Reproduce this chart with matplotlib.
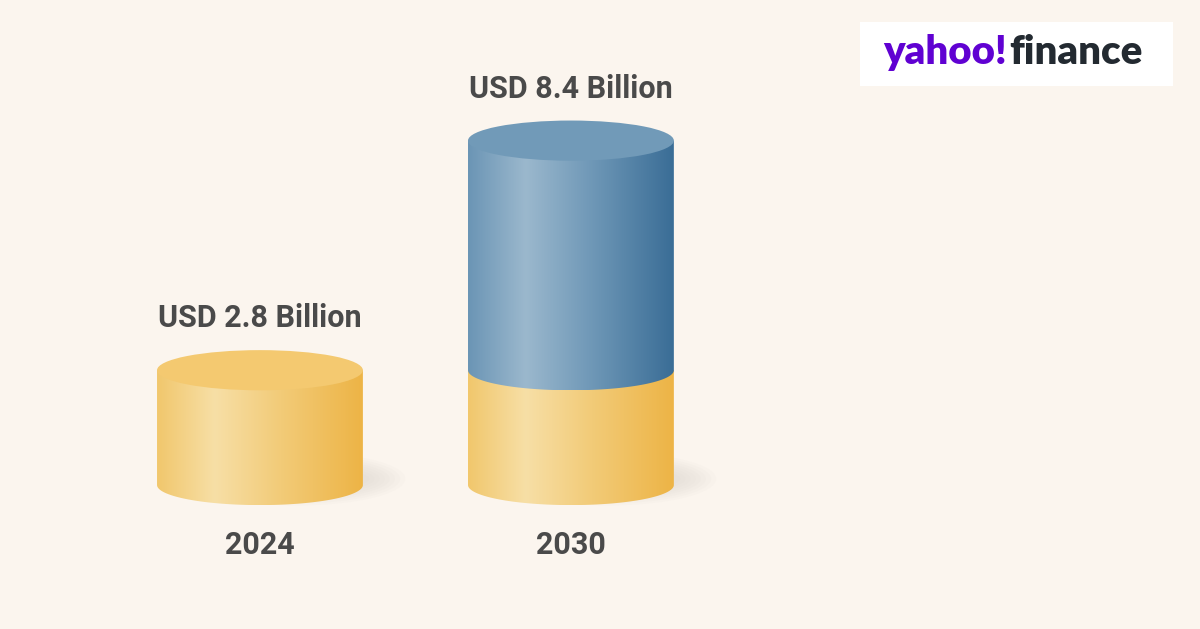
import matplotlib
matplotlib.use("Agg")
import matplotlib.pyplot as plt
import numpy as np
from matplotlib.colors import LinearSegmentedColormap
from matplotlib.patches import Ellipse, PathPatch, Rectangle
from matplotlib.path import Path

# datos del gráfico (USD mil millones)
years = ["2024", "2030"]
base_values = [2.8, 2.8]      # tramo amarillo
growth_values = [0.0, 5.6]    # tramo azul (2030 - 2024)
total_labels = ["USD 2.8 Billion", "USD 8.4 Billion"]

BG = "#FBF5EE"
TXT = "#4A4A4A"
HALF_W = 0.331      # semiancho del cilindro (unidades x)
ELL_H = 0.49        # semialto de la elipse (unidades y)

yellow_cmap = LinearSegmentedColormap.from_list(
    "amarillo", [(0, "#F1C76C"), (0.28, "#F7DFA6"), (0.6, "#F2CB78"), (1, "#EDB446")])
blue_cmap = LinearSegmentedColormap.from_list(
    "azul", [(0, "#6B95B5"), (0.28, "#9BB8CD"), (0.6, "#6F98B7"), (1, "#3A6D96")])


def side_path(xc, y0, y1):
    """Cara lateral: rectángulo con semielipse inferior en y0."""
    t = np.linspace(np.pi, 2 * np.pi, 80)
    bx = xc + HALF_W * np.cos(t)
    by = y0 + ELL_H * np.sin(t)
    verts = [(xc - HALF_W, y1)] + list(zip(bx, by)) + [(xc + HALF_W, y1), (xc - HALF_W, y1)]
    codes = [Path.MOVETO] + [Path.LINETO] * (len(verts) - 2) + [Path.CLOSEPOLY]
    return Path(verts, codes)


def draw_segment(ax, xc, y0, y1, cmap, top_color=None, zorder=2):
    grad = np.linspace(0, 1, 256).reshape(1, -1)
    patch = PathPatch(side_path(xc, y0, y1), facecolor="none", edgecolor="none")
    ax.add_patch(patch)
    im = ax.imshow(grad, cmap=cmap, aspect="auto", zorder=zorder,
                   extent=(xc - HALF_W, xc + HALF_W, y0 - ELL_H, y1), interpolation="bicubic")
    im.set_clip_path(patch)
    if top_color is not None:
        ax.add_patch(Ellipse((xc, y1), 2 * HALF_W, 2 * ELL_H, facecolor=top_color,
                             edgecolor="none", zorder=zorder + 0.5))


fig = plt.figure(figsize=(12, 6.29), dpi=100, facecolor=BG)
ax = fig.add_axes([0, 0, 1, 1])
ax.set_facecolor(BG)
ax.set_xlim(-0.836, 3.023)
ax.set_ylim(-3.512, 11.83)
ax.axis("off")

for i, year in enumerate(years):
    total = base_values[i] + growth_values[i]
    # sombra suave a la derecha de la base
    for k in range(8):
        ax.add_patch(Ellipse((i + 0.12, 0.15), 2 * HALF_W * (1.05 - k * 0.05), 1.3 - k * 0.1,
                             facecolor="#C9C4BC", edgecolor="none", alpha=0.05, zorder=1))
    draw_segment(ax, i, 0, base_values[i], yellow_cmap,
                 top_color="#F4C970" if growth_values[i] == 0 else None, zorder=2)
    if growth_values[i] > 0:
        draw_segment(ax, i, base_values[i], total, blue_cmap, top_color="#719AB8", zorder=4)
    ax.text(i, total + 1.27, total_labels[i], ha="center", va="center",
            fontsize=22, fontweight="bold", family="Roboto", color=TXT)
    ax.text(i, -1.46, year, ha="center", va="center",
            fontsize=22, fontweight="bold", family="Roboto", color=TXT)

# logo
fig.patches.append(Rectangle((0.7167, 0.8633), 0.2608, 0.1017, transform=fig.transFigure,
                             facecolor="white", edgecolor="none", zorder=5))
fig.text(0.839, 0.898, "yahoo!", ha="right", va="baseline", fontsize=29,
         fontweight="heavy", family="Lato", color="#6001D2", zorder=6)
fig.text(0.841, 0.898, "finance", ha="left", va="baseline", fontsize=29,
         fontweight="heavy", family="Lato", color="#232A31", zorder=6)

fig.savefig("out.png", dpi=100, facecolor=BG)
